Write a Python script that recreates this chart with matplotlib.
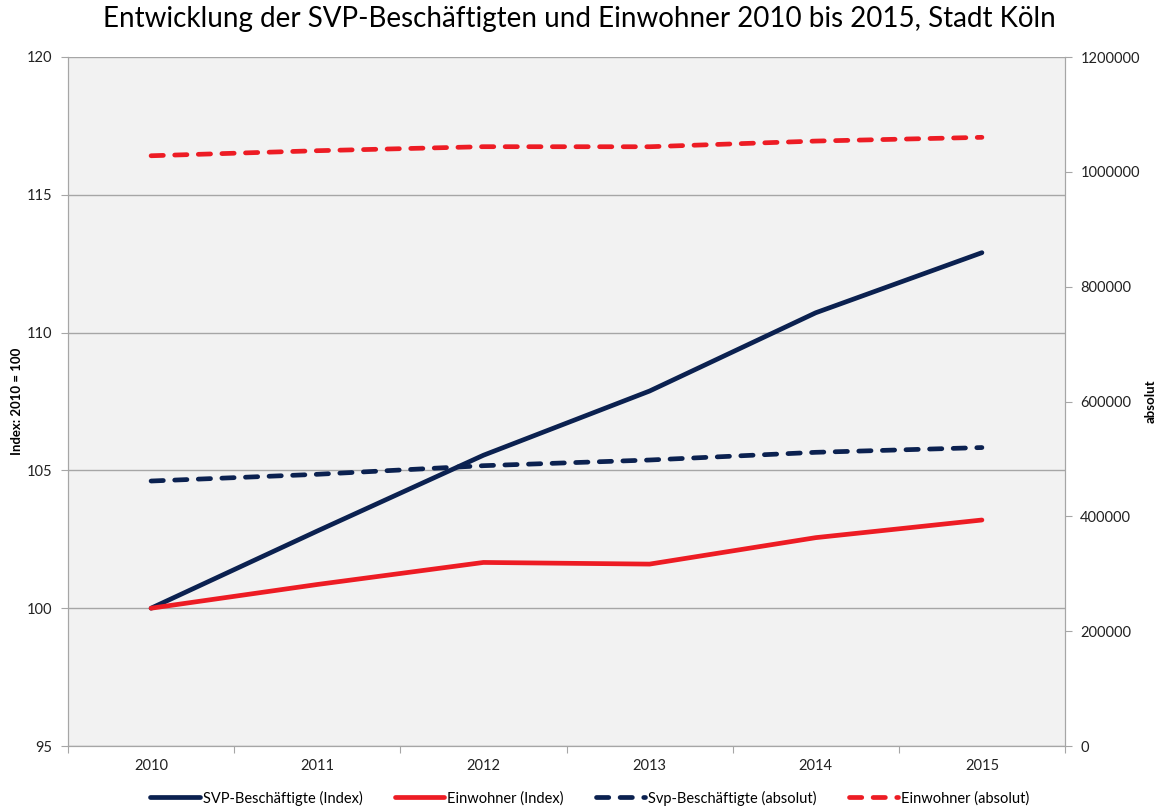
import matplotlib.pyplot as plt
from matplotlib.lines import Line2D

plt.rcParams['font.family'] = ['Lato', 'DejaVu Sans']

years = ["2010", "2011", "2012", "2013", "2014", "2015"]
svp_index = [100, 102.8, 105.55, 107.88, 110.72, 112.9]
einw_index = [100, 100.86, 101.66, 101.6, 102.56, 103.2]
svp_abs = [461500, 473200, 488200, 498100, 511500, 519800]
einw_abs = [1028000, 1036800, 1043800, 1043700, 1053600, 1060100]

navy = "#0B2150"
red = "#ED1C24"
grid_c = "#A6A6A6"

fig = plt.figure(figsize=(11.59, 8.10), dpi=100)
ax = fig.add_axes([68 / 1159, 1 - 746 / 810, 997 / 1159, 689 / 810])
ax2 = ax.twinx()
ax.set_zorder(ax2.get_zorder() - 1)
ax2.patch.set_visible(False)
ax.set_facecolor("#F2F2F2")

x = list(range(len(years)))
lw = 3.4
ax.plot(x, svp_index, color=navy, lw=lw, solid_capstyle="round", solid_joinstyle="round")
ax.plot(x, einw_index, color=red, lw=lw, solid_capstyle="round", solid_joinstyle="round")
ax2.plot(x, svp_abs, color=navy, lw=lw, dashes=(2.6, 2.4), dash_capstyle="round")
ax2.plot(x, einw_abs, color=red, lw=lw, dashes=(2.6, 2.4), dash_capstyle="round")

ax.set_xlim(-0.5, 5.5)
ax.set_ylim(95, 120)
ax.set_yticks([95, 100, 105, 110, 115, 120])
ax.yaxis.grid(True, color=grid_c, lw=1)
ax.set_axisbelow(True)
ax2.set_ylim(0, 1200000)
ax2.set_yticks(range(0, 1200001, 200000))
ax2.set_yticklabels([str(v) for v in range(0, 1200001, 200000)])

ax.set_xticks([i - 0.5 for i in range(7)])
ax.set_xticklabels([])
ax.set_xticks(x, minor=True)
ax.set_xticklabels(years, minor=True)
ax.tick_params(axis="x", which="major", length=5, color=grid_c)
ax.tick_params(axis="x", which="minor", length=0, pad=9, labelsize=10.5, labelcolor="#222222")
ax.tick_params(axis="y", length=5, color=grid_c, labelsize=10.5, labelcolor="#222222", pad=6)
ax2.tick_params(axis="y", length=5, color=grid_c, labelsize=10.5, labelcolor="#222222", pad=6)

for a in (ax, ax2):
    a.spines["top"].set_visible(False)
    for s in ("left", "right", "bottom"):
        a.spines[s].set_color(grid_c)

ymid = 1 - 401 / 810
fig.text(17 / 1159, ymid, "Index: 2010 = 100", fontsize=9.5, fontweight="bold",
         rotation=90, ha="center", va="center")
fig.text(1151 / 1159, ymid, "absolut", fontsize=9.5, fontweight="bold",
         rotation=90, ha="center", va="center")

fig.suptitle("Entwicklung der SVP-Beschäftigten und Einwohner 2010 bis 2015, Stadt Köln",
             fontsize=20, y=0.993, va="top")

handles = [
    Line2D([], [], color=navy, lw=lw, solid_capstyle="round"),
    Line2D([], [], color=red, lw=lw, solid_capstyle="round"),
    Line2D([], [], color=navy, lw=lw, dashes=(2.6, 2.4), dash_capstyle="round"),
    Line2D([], [], color=red, lw=lw, dashes=(2.6, 2.4), dash_capstyle="round"),
]
labels = ["SVP-Beschäftigte (Index)", "Einwohner (Index)",
          "Svp-Beschäftigte (absolut)", "Einwohner (absolut)"]
fig.legend(handles, labels, loc="center", bbox_to_anchor=(0.509, 1 - 798 / 810),
           ncol=4, frameon=False, fontsize=10.5, handlelength=3.4, handletextpad=0.2,
           columnspacing=2.2)

fig.savefig("out.png", dpi=100)
